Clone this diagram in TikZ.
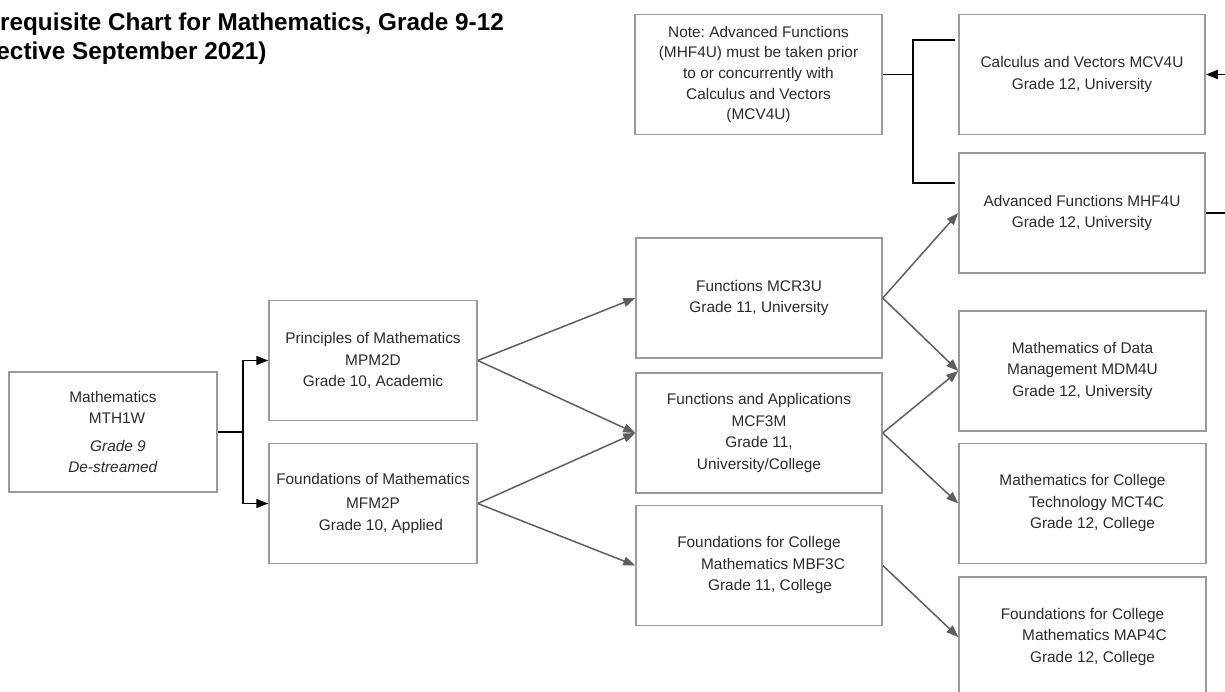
\documentclass[tikz,border=0pt]{standalone}
\usepackage{fontspec}
\setmainfont{Liberation Sans}
\usepackage{xcolor}
\usetikzlibrary{
    arrows.meta,
    shapes,
    calc
}
\definecolor{boxline}{HTML}{9A9A9A}
\definecolor{arrowgray}{HTML}{5E5E5E}
\definecolor{textgray}{HTML}{2A2A2A}

\begin{document}
\frenchspacing
\begin{tikzpicture}[x=1pt, y=-1pt, >={Triangle[length=12pt,width=9pt]},
                course/.style={
                rectangle, draw=boxline, line width=1.5pt, inner sep=0pt, text centered, align=center,
                text=textgray, font=\fontsize{15.4}{21.5}\selectfont, minimum width=246pt, minimum height=120pt},
                link/.style={->, draw=arrowgray, line width=1.5pt}]
                \useasboundingbox (0,0) rectangle (1225,692);
                \clip (0,0) rectangle (1225,692);
                \node[anchor=north west, inner sep=0pt, align=left, font=\fontsize{24.3}{28.6}\selectfont\bfseries] (title) at (-39.2,13) {Prerequisite Chart for Mathematics, Grade 9-12\\\hspace*{-5pt}(Effective September 2021)};
                \node[course, minimum width=247pt, font=\fontsize{15.4}{20.7}\selectfont] (note) at (758.5,74.5) {Note: Advanced Functions\\(MHF4U) must be taken prior\\to or concurrently with\\Calculus and Vectors\\(MCV4U)};
                \node[course] (mcv) at (1082,74.5) {Calculus and Vectors MCV4U\\Grade 12, University};
                \node[course] (mhf) at (1082,213) {Advanced Functions MHF4U\\Grade 12, University};
                \node[course, minimum width=208pt] (mth) at (113,432) {Mathematics\\\hspace*{8pt}MTH1W\\[6pt]\hspace*{10pt}\textit{Grade 9}\\\textit{De-streamed}};
                \node[course, minimum width=208pt] (mpm) at (373,360.5) {Principles of Mathematics\\MPM2D\\Grade 10, Academic};
                \node[course, minimum width=208pt] (mfm) at (373,503.5) {Foundations of Mathematics\\[3pt]MFM2P\\\hspace*{16pt}Grade 10, Applied};
                \node[course] (mcr) at (759,298) {Functions MCR3U\\Grade 11, University};
                \node[course] (mcf) at (759,433) {Functions and Applications\\MCF3M\\Grade 11,\\University/College};
                \node[course] (mbf) at (759,565.5) {Foundations for College\\\hspace*{28pt}Mathematics MBF3C\\\hspace*{22pt}Grade 11, College};
                \node[course, minimum width=247pt] (mdm) at (1082.5,371) {Mathematics of Data\\Management MDM4U\\Grade 12, University};
                \node[course, minimum width=247pt] (mct) at (1082.5,503.5) {Mathematics for College\\\hspace*{28pt}Technology MCT4C\\\hspace*{20pt}Grade 12, College};
                \node[course, minimum width=247pt] (map) at (1082.5,637) {Foundations for College\\\hspace*{24pt}Mathematics MAP4C\\\hspace*{20pt}Grade 12, College};
                % grade 9 to grade 10
                \draw [->, line width=1.5pt] (mth.east) -- ++(25,0) |- (mpm.west);
                \draw [->, line width=1.5pt] (mth.east) -- ++(25,0) |- (mfm.west);
                % note bracket
                \coordinate (jn) at (913,74.5);
                \draw [line width=1.5pt] (note.east) -- (jn);
                \draw [line width=1.5pt] ([shift={(-3,-34.5)}]mcv.west) -| (jn) |- ([shift={(-3,-30)}]mhf.west);
                \draw [->, line width=1.5pt] (mhf.east) -- ++(40,0) |- (mcv.east);
                % grade 10 to grade 11
                \draw [link] (mpm.east) -- (mcr.west);
                \draw [link] (mpm.east) -- (mcf.west);
                \draw [link] (mfm.east) -- (mcf.west);
                \draw [link] (mfm.east) -- (mbf.west);
                % grade 11 to grade 12
                \draw [link] (mcr.east) -- (mhf.west);
                \draw [link] (mcr.east) -- (mdm.west);
                \draw [link] (mcf.east) -- (mdm.west);
                \draw [link] (mcf.east) -- (mct.west);
                \draw [link] (mbf.east) -- (map.west);
            \end{tikzpicture}
\end{document}
